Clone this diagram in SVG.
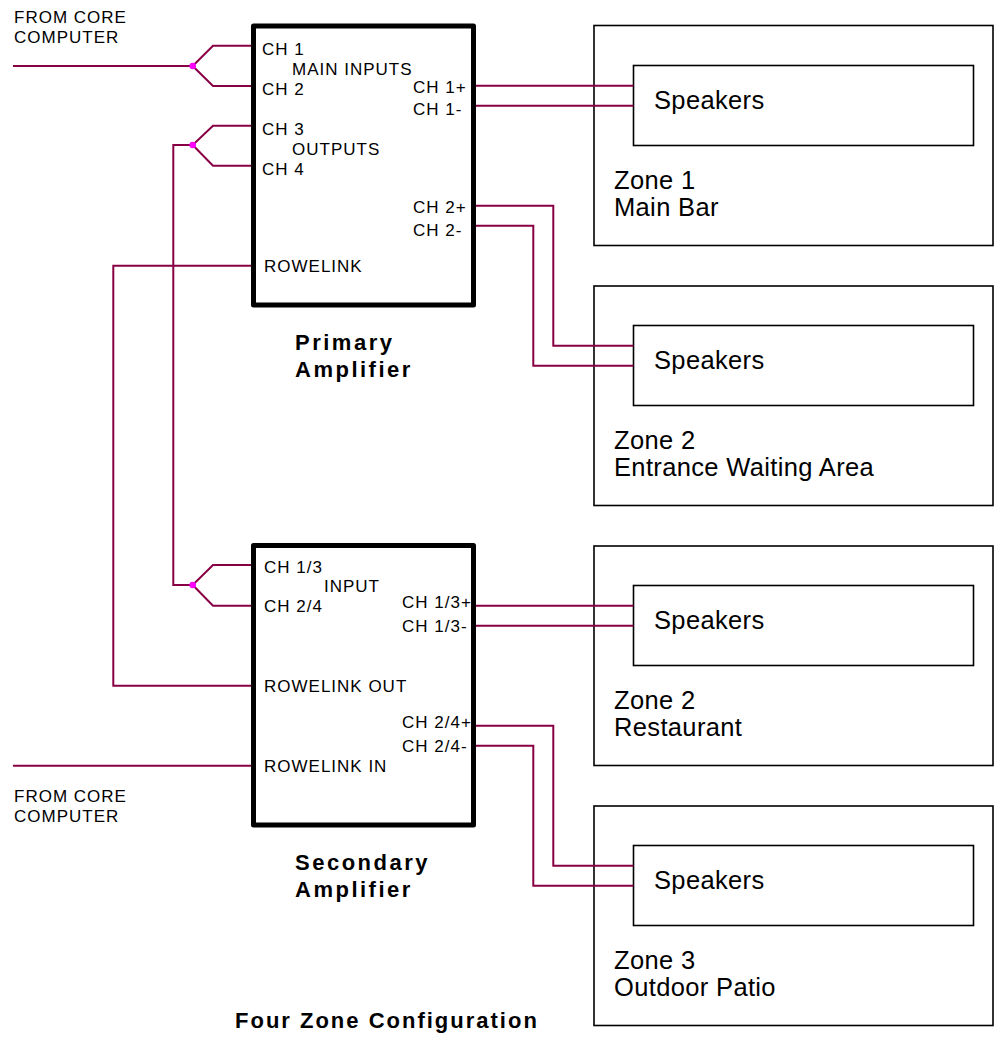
<svg xmlns="http://www.w3.org/2000/svg" width="997" height="1040" viewBox="0 0 997 1040">
<style>
.w{fill:none;stroke:#880044;stroke-width:2;stroke-linejoin:miter}
.amp{fill:#fff;stroke:#000;stroke-width:5;stroke-linejoin:round}
.zone{fill:#fff;stroke:#000;stroke-width:1.6}
.lbl{font-family:"Liberation Sans",Arial,sans-serif;font-size:17px;letter-spacing:1px;fill:#000}
.big{font-family:"Liberation Sans",Arial,sans-serif;font-size:25.5px;letter-spacing:0.35px;fill:#000}
.ttl{font-family:"Liberation Sans",Arial,sans-serif;font-size:22px;font-weight:bold;letter-spacing:2.5px;fill:#000}
.dot{fill:#ff00ff}
</style>
<rect width="997" height="1040" fill="#fff"/>
<g id="zone1">
<rect class="zone" x="594" y="25.5" width="399" height="220"/>
<text class="big" x="614" y="189">Zone 1</text>
<text class="big" x="614" y="216">Main Bar</text>
</g>
<g id="zone2">
<rect class="zone" x="594" y="286" width="399" height="219.5"/>
<text class="big" x="614" y="449">Zone 2</text>
<text class="big" x="614" y="476">Entrance Waiting Area</text>
</g>
<g id="zone3">
<rect class="zone" x="594" y="546" width="399" height="219.5"/>
<text class="big" x="614" y="709">Zone 2</text>
<text class="big" x="614" y="736">Restaurant</text>
</g>
<g id="zone4">
<rect class="zone" x="594" y="806" width="399" height="219.5"/>
<text class="big" x="614" y="969">Zone 3</text>
<text class="big" x="614" y="996">Outdoor Patio</text>
</g>
<g id="speakers1">
<rect class="zone" x="633.5" y="65.5" width="340" height="80"/>
<text class="big" x="654" y="109">Speakers</text>
</g>
<g id="speakers2">
<rect class="zone" x="633.5" y="325.5" width="340" height="80"/>
<text class="big" x="654" y="369">Speakers</text>
</g>
<g id="speakers3">
<rect class="zone" x="633.5" y="585.5" width="340" height="80"/>
<text class="big" x="654" y="629">Speakers</text>
</g>
<g id="speakers4">
<rect class="zone" x="633.5" y="845.5" width="340" height="80"/>
<text class="big" x="654" y="889">Speakers</text>
</g>
<g id="connectors">
<path class="w" d="M13 66H192.7L213 45.7H253M192.7 66L213 86H253"/>
<path class="w" d="M253 125.7H213L192.7 145L213 165.7H253M192.7 145H173.3V585H192.7L213 565H253M192.7 585L213 605.7H253"/>
<path class="w" d="M253 265.7H113.3V685.7H253"/>
<path class="w" d="M13 765.7H253"/>
<path class="w" d="M476 85.7H633.5M476 105.7H633.5"/>
<path class="w" d="M476 205.7H553.3V345.7H633.5M476 225.7H533.3V365.7H633.5"/>
<path class="w" d="M476 605.7H633.5M476 625.7H633.5"/>
<path class="w" d="M476 725.7H553.3V865.7H633.5M476 745.7H533.3V885.7H633.5"/>
</g>
<g id="primary">
<rect class="amp" x="253.5" y="26" width="220" height="279"/>
<text class="lbl" x="262" y="55">CH 1</text>
<text class="lbl" x="292" y="75">MAIN INPUTS</text>
<text class="lbl" x="262" y="95">CH 2</text>
<text class="lbl" x="262" y="135">CH 3</text>
<text class="lbl" x="292" y="155">OUTPUTS</text>
<text class="lbl" x="262" y="175">CH 4</text>
<text class="lbl" x="264" y="272">ROWELINK</text>
<text class="lbl" x="413" y="93">CH 1+</text>
<text class="lbl" x="413" y="115">CH 1-</text>
<text class="lbl" x="413" y="213">CH 2+</text>
<text class="lbl" x="413" y="236">CH 2-</text>
</g>
<g id="secondary">
<rect class="amp" x="253.5" y="545.5" width="220" height="279.5"/>
<text class="lbl" x="264" y="573">CH 1/3</text>
<text class="lbl" x="324" y="592">INPUT</text>
<text class="lbl" x="264" y="612">CH 2/4</text>
<text class="lbl" x="264" y="692">ROWELINK OUT</text>
<text class="lbl" x="264" y="772">ROWELINK IN</text>
<text class="lbl" x="402" y="608">CH 1/3+</text>
<text class="lbl" x="402" y="632">CH 1/3-</text>
<text class="lbl" x="402" y="728">CH 2/4+</text>
<text class="lbl" x="402" y="752">CH 2/4-</text>
</g>
<g id="dots">
<circle class="dot" cx="192.7" cy="66" r="3.3"/>
<circle class="dot" cx="192.7" cy="145" r="3.3"/>
<circle class="dot" cx="192.7" cy="585" r="3.3"/>
</g>
<g id="labels">
<text class="lbl" x="14" y="23">FROM CORE</text>
<text class="lbl" x="14" y="43">COMPUTER</text>
<text class="lbl" x="14" y="802">FROM CORE</text>
<text class="lbl" x="14" y="822">COMPUTER</text>
<text class="ttl" x="295" y="350">Primary</text>
<text class="ttl" x="295" y="377">Amplifier</text>
<text class="ttl" x="295" y="870">Secondary</text>
<text class="ttl" x="295" y="897">Amplifier</text>
<text class="ttl" x="235" y="1028" style="letter-spacing:2px">Four Zone Configuration</text>
</g>
</svg>
